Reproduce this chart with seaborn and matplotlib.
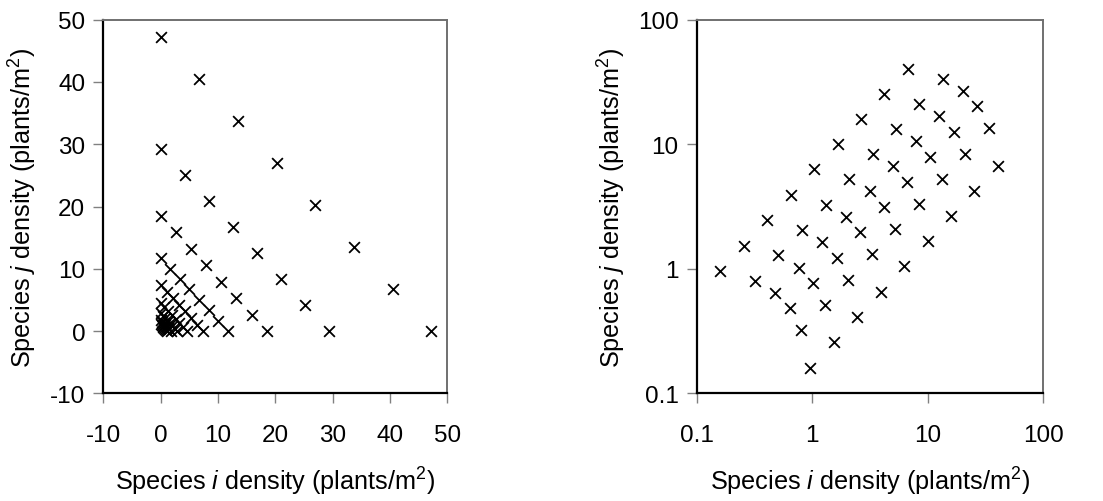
import matplotlib
matplotlib.use("Agg")
import matplotlib.pyplot as plt
import matplotlib.ticker as mticker
import seaborn as sns
import pandas as pd

# Species i and j densities (plants/m^2), grouped by total-density level,
# proportion of species i going 0/7 ... 7/7
species_i = [
    0, 0.16, 0.32, 0.48, 0.64, 0.80, 0.96, 1.12,
    0, 0.256, 0.511, 0.767, 1.023, 1.279, 1.534, 1.79,
    0, 0.409, 0.817, 1.226, 1.634, 2.043, 2.451, 2.86,
    0, 0.654, 1.309, 1.963, 2.617, 3.271, 3.926, 4.58,
    0, 1.047, 2.094, 3.141, 4.189, 5.236, 6.283, 7.33,
    0, 1.671, 3.343, 5.014, 6.686, 8.357, 10.03, 11.7,
    0, 2.643, 5.286, 7.929, 10.57, 13.21, 15.86, 18.5,
    0, 4.186, 8.371, 12.56, 16.74, 20.93, 25.11, 29.3,
    0, 6.743, 13.49, 20.23, 26.97, 33.71, 40.46, 47.2,
]
species_j = [
    1.12, 0.96, 0.80, 0.64, 0.48, 0.32, 0.16, 0,
    1.79, 1.534, 1.279, 1.023, 0.767, 0.511, 0.256, 0,
    2.86, 2.451, 2.043, 1.634, 1.226, 0.817, 0.409, 0,
    4.58, 3.926, 3.271, 2.617, 1.963, 1.309, 0.654, 0,
    7.33, 6.283, 5.236, 4.189, 3.141, 2.094, 1.047, 0,
    11.7, 10.03, 8.357, 6.686, 5.014, 3.343, 1.671, 0,
    18.5, 15.86, 13.21, 10.57, 7.929, 5.286, 2.643, 0,
    29.3, 25.11, 20.93, 16.74, 12.56, 8.371, 4.186, 0,
    47.2, 40.46, 33.71, 26.97, 20.23, 13.49, 6.743, 0,
]

lin_ticks = [-10, 0, 10, 20, 30, 40, 50]
log_ticks = [0.1, 1, 10, 100]

df = pd.DataFrame({"i": species_i, "j": species_j})
df_mix = df[(df["i"] > 0) & (df["j"] > 0)]

sns.set_theme(style="white")
plt.rcParams["font.family"] = ["Liberation Sans", "DejaVu Sans"]
plt.rcParams["mathtext.fontset"] = "custom"
plt.rcParams["mathtext.rm"] = "Liberation Sans"
plt.rcParams["mathtext.it"] = "Liberation Sans:italic"
plt.rcParams["axes.unicode_minus"] = False
plt.rcParams["text.color"] = "black"
plt.rcParams["axes.labelcolor"] = "black"
plt.rcParams["xtick.labelcolor"] = "black"
plt.rcParams["ytick.labelcolor"] = "black"

fig = plt.figure(figsize=(11.03, 5.02), dpi=100)
ax1 = fig.add_axes([0.0937, 0.2145, 0.3119, 0.7442])
ax2 = fig.add_axes([0.6316, 0.2145, 0.3142, 0.7442])

xlab = r"Species $\it{i}$ density (plants/m$^{2}$)"
ylab = r"Species $\it{j}$ density (plants/m$^{2}$)"

sns.scatterplot(data=df, x="i", y="j", ax=ax1, marker="x", color="black",
                s=60, linewidth=1.3)
sns.scatterplot(data=df_mix, x="i", y="j", ax=ax2, marker="x", color="black",
                s=60, linewidth=1.3)

ax1.set_xlim(-10, 50)
ax1.set_ylim(-10, 50)
ax1.set_xticks(lin_ticks)
ax1.set_yticks(lin_ticks)

ax2.set_xscale("log")
ax2.set_yscale("log")
ax2.set_xlim(0.1, 100)
ax2.set_ylim(0.1, 100)
ax2.set_xticks(log_ticks)
ax2.set_yticks(log_ticks)
fmt = mticker.FuncFormatter(lambda v, p: f"{v:g}")
ax2.xaxis.set_major_formatter(fmt)
ax2.yaxis.set_major_formatter(fmt)
ax2.xaxis.set_minor_locator(mticker.NullLocator())
ax2.yaxis.set_minor_locator(mticker.NullLocator())

for ax, ylx in ((ax1, -0.187), (ax2, -0.198)):
    ax.set_xlabel(xlab, fontsize=18.2, color="black")
    ax.set_ylabel(ylab, fontsize=18.2, color="black")
    ax.xaxis.set_label_coords(0.5, -0.19)
    ax.yaxis.set_label_coords(ylx, 0.5)
    ax.tick_params(axis="both", which="major", direction="out", length=7,
                   width=1, color="#808080", labelsize=17.5, labelcolor="black",
                   bottom=True, left=True)
    ax.tick_params(axis="x", pad=15)
    ax.tick_params(axis="y", pad=6)
    for s in ("left", "bottom"):
        ax.spines[s].set_color("black")
        ax.spines[s].set_linewidth(1.6)
    for s in ("top", "right"):
        ax.spines[s].set_color("#707070")
        ax.spines[s].set_linewidth(1.4)
    ax.grid(False)

fig.savefig("out.png", dpi=100)
